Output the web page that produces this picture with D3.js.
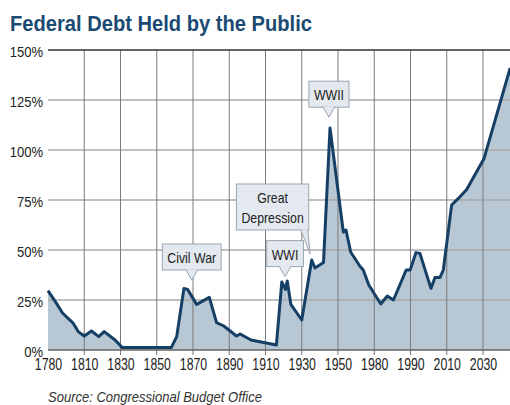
<!DOCTYPE html>
<html>
<head>
<meta charset="utf-8">
<script src="https://cdn.jsdelivr.net/npm/d3@7"></script>
<style>
  body { margin: 0; background: #fff; }
  text { font-family: "Liberation Sans", Arial, sans-serif; }
</style>
</head>
<body>
<script>
// tick labels on the x axis (evenly spaced in the original, even though the years are not)
var tickYears = [1780, 1810, 1830, 1850, 1870, 1890, 1910, 1930, 1950, 1980, 1990, 2010, 2030];
var yTicks = [0, 25, 50, 75, 100, 125, 150];

// debt held by the public, % of GDP
var years = [1780, 1787, 1792, 1801, 1805, 1810, 1814, 1818, 1821, 1827, 1831, 1858, 1861, 1865, 1867,
  1872, 1879, 1883, 1887, 1894, 1896, 1902, 1916, 1919, 1921, 1922, 1924, 1930, 1935.5, 1937.3,
  1942, 1945.6, 1954.4, 1956.6, 1960.5, 1968, 1970.9, 1975.5, 1981.8, 1983.6, 1985.3, 1988.8,
  1989.9, 1993, 1995.2, 2001.3, 2003.5, 2006.3, 2008.1, 2012.7, 2016.4, 2021, 2030.6, 2045];
var debt = [29.7, 23.3, 18.5, 13.3, 9.2, 7, 9.5, 6.7, 9.2, 5, 1.2, 1.2, 6.7, 30.8, 30.3,
  22.8, 26.3, 13.7, 12, 7, 8, 5, 2.5, 34, 30.3, 34.5, 22.8, 15, 45, 41,
  43.7, 111, 59, 60, 49, 42, 40, 32.5, 23, 27, 25, 40,
  40, 48.7, 48.3, 30.8, 36.3, 36.3, 40, 72.5, 75.8, 80.3, 95.8, 141];

// callouts: label lines and the point the pointer touches
var noteLabels = [["Civil War"], ["Great", "Depression"], ["WWI"], ["WWII"]];
var noteYears = [1869.3, 1934.6, 1920.8, 1945];
var noteValues = [35, 48, 36.7, 116.4];

var margin = { top: 50, left: 48, bottom: 55, right: 0 };
var W = 510, H = 405;
var height = H - margin.top - margin.bottom;
var step = (483 - margin.left) / (tickYears.length - 1);

var x = d3.scaleLinear()
  .domain(tickYears)
  .range(tickYears.map((d, i) => margin.left + i * step));
var y = d3.scaleLinear().domain([0, 150]).range([margin.top + height, margin.top]);

var data = years.map((d, i) => ({ year: d, value: debt[i] }));

var svg = d3.select("body").append("svg").attr("width", W).attr("height", H);

// squeeze text to look like a condensed face
function condense(sel, k) {
  sel.each(function () {
    var w = this.getComputedTextLength();
    d3.select(this).attr("textLength", w * k).attr("lengthAdjust", "spacingAndGlyphs");
  });
}

// title
svg.append("text")
  .attr("x", 10).attr("y", 31)
  .attr("font-size", 22).attr("font-weight", "bold")
  .attr("fill", "#1b4a72")
  .attr("textLength", 302).attr("lengthAdjust", "spacingAndGlyphs")
  .text("Federal Debt Held by the Public");

// area
var area = d3.area()
  .x((d) => x(d.year))
  .y0(y(0))
  .y1((d) => y(d.value));
svg.append("path").datum(data)
  .attr("fill", "#b8c7d4")
  .attr("d", area);

// grid
svg.append("g").selectAll("line")
  .data(yTicks.filter((d) => d > 0 && d < 150))
  .join("line")
  .attr("x1", margin.left).attr("x2", W)
  .attr("y1", (d) => y(d)).attr("y2", (d) => y(d))
  .attr("stroke", "#aaa").attr("stroke-width", 1.5);

svg.append("g").selectAll("line")
  .data(tickYears.slice(1))
  .join("line")
  .attr("x1", (d) => x(d)).attr("x2", (d) => x(d))
  .attr("y1", y(150)).attr("y2", y(0) + 5)
  .attr("stroke", "#7a7a7a").attr("stroke-width", 1);

svg.append("line")
  .attr("x1", margin.left).attr("x2", W)
  .attr("y1", y(150)).attr("y2", y(150))
  .attr("stroke", "#333").attr("stroke-width", 1.5);
svg.append("line")
  .attr("x1", margin.left).attr("x2", W)
  .attr("y1", y(0)).attr("y2", y(0))
  .attr("stroke", "#666").attr("stroke-width", 1.5);

// line
var line = d3.line()
  .x((d) => x(d.year))
  .y((d) => y(d.value));
svg.append("path").datum(data)
  .attr("fill", "none")
  .attr("stroke", "#163f66")
  .attr("stroke-width", 3)
  .attr("stroke-linejoin", "round")
  .attr("d", line);

// axes
var xAxis = svg.append("g")
  .attr("transform", `translate(0,${y(0)})`)
  .call(d3.axisBottom(x).tickValues(tickYears).tickFormat(d3.format("d")).tickSize(0).tickPadding(9));
xAxis.select(".domain").remove();
xAxis.selectAll("text").attr("font-size", 16).attr("fill", "#222").attr("font-family", null);
condense(xAxis.selectAll("text"), 0.77);

var yAxis = svg.append("g")
  .attr("transform", `translate(${margin.left},0)`)
  .call(d3.axisLeft(y).tickValues(yTicks).tickFormat((d) => d + "%").tickSize(0).tickPadding(5));
yAxis.select(".domain").remove();
yAxis.selectAll("text").attr("font-size", 15.5).attr("fill", "#222").attr("font-family", null).attr("dy", "0.42em");
condense(yAxis.selectAll("text"), 0.84);

// callouts
var boxOffset = { "Great": { dx: -37.5, gap: 24 } };
noteLabels.forEach(function (lines, i) {
  var tx = x(noteYears[i]), ty = y(noteValues[i]);
  var off = boxOffset[lines[0]] || { dx: 0, gap: 10 };
  var g = svg.append("g");
  var box = g.append("rect");
  var texts = g.selectAll("text").data(lines).join("text")
    .attr("font-size", 14.5).attr("fill", "#222")
    .attr("text-anchor", "middle")
    .text((d) => d);
  condense(texts, 0.85);
  var tw = d3.max(texts.nodes(), (n) => +n.getAttribute("textLength"));
  var bw = tw + 10, bh = lines.length * 20 + 6;
  var cx = tx + off.dx, bottom = ty - off.gap;
  box.attr("x", cx - bw / 2).attr("y", bottom - bh).attr("width", bw).attr("height", bh)
    .attr("fill", "#e3e9ef").attr("stroke", "#9aa5b0").attr("stroke-width", 1);
  texts.attr("x", cx).attr("y", (d, j) => bottom - bh + 19 + j * 20);
  var ptr = off.dx === 0
    ? [[tx - 6, bottom - 0.5], [tx, ty], [tx + 6, bottom - 0.5]]
    : [[cx + bw / 2 - 8, bottom - 0.5], [tx, ty], [cx + bw / 2 - 1, bottom - 0.5]];
  g.append("path")
    .attr("d", "M" + ptr.join("L"))
    .attr("fill", "#e3e9ef").attr("stroke", "#9aa5b0").attr("stroke-width", 1);
});

// source
svg.append("text")
  .attr("x", 48).attr("y", 402)
  .attr("font-size", 14.5).attr("font-style", "italic").attr("fill", "#333")
  .attr("textLength", 214).attr("lengthAdjust", "spacingAndGlyphs")
  .text("Source: Congressional Budget Office");
</script>
</body>
</html>
